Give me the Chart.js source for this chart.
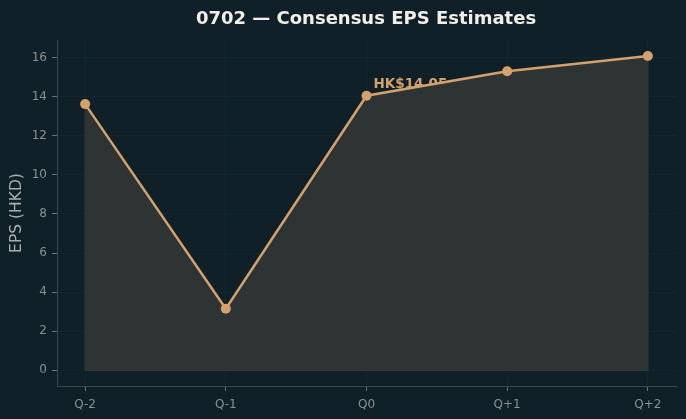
<!DOCTYPE html>
<html>
<head>
<meta charset="utf-8">
<script src="https://cdn.jsdelivr.net/npm/chart.js@4/dist/chart.umd.min.js"></script>
<style>
  html, body { margin: 0; padding: 0; background: #0f2028; }
  canvas { display: block; }
</style>
</head>
<body>
<canvas id="chart" width="686" height="419"></canvas>
<script>
var quarters = ['Q-2', 'Q-1', 'Q0', 'Q+1', 'Q+2']
var eps = [13.62, 3.15, 14.05, 15.3, 16.08]
var yTicks = [0, 2, 4, 6, 8, 10, 12, 14, 16]
var labelIndex = 2

var bg = '#0f2028'
var lineColor = '#d4a16c'
var fillColor = '#2e3434'

// titles + annotation drawn on the canvas
var textPlugin = {
    id: 'texts',
    beforeDraw(chart) {
        var c = chart.ctx
        c.save()
        c.fillStyle = bg
        c.fillRect(0, 0, chart.width, chart.height)
        c.restore()
    },
    beforeDatasetsDraw(chart) {
        var c = chart.ctx
        var x = chart.scales.x, y = chart.scales.y
        c.save()
        // fill edge (matplotlib style outline)
        c.strokeStyle = '#3b403d'
        c.lineWidth = 1
        c.beginPath()
        c.moveTo(x.getPixelForValue(0), y.getPixelForValue(eps[0]))
        c.lineTo(x.getPixelForValue(0), y.getPixelForValue(0))
        c.lineTo(x.getPixelForValue(eps.length - 1), y.getPixelForValue(0))
        c.lineTo(x.getPixelForValue(eps.length - 1), y.getPixelForValue(eps[eps.length - 1]))
        c.stroke()
        // annotation
        c.font = 'bold 13.5px "DejaVu Sans"'
        c.fillStyle = lineColor
        c.textAlign = 'left'
        c.textBaseline = 'middle'
        c.fillText('HK$' + eps[labelIndex].toFixed(2),
            x.getPixelForValue(labelIndex) + 7, y.getPixelForValue(eps[labelIndex]) - 11)
        c.restore()
    },
    afterDraw(chart) {
        var c = chart.ctx
        c.save()
        c.fillStyle = '#f2efe8'
        c.font = 'bold 18px "DejaVu Sans"'
        c.textAlign = 'center'
        c.textBaseline = 'middle'
        c.fillText('0702 \u2014 Consensus EPS Estimates', 366, 19)
        c.translate(17, 213)
        c.rotate(-Math.PI / 2)
        c.fillStyle = '#a9adae'
        c.font = '15.5px "DejaVu Sans"'
        c.fillText('EPS (HKD)', 0, 0)
        c.restore()
    }
}

document.addEventListener('DOMContentLoaded', () => {
    var ctx = document.getElementById('chart').getContext('2d')
    var points = eps.map((v, i) => ({ x: i, y: v }))
    new Chart(ctx, {
        type: 'line',
        data: {
            datasets: [{
                data: points,
                borderColor: lineColor,
                borderWidth: 2.5,
                backgroundColor: fillColor,
                fill: 'origin',
                pointRadius: 5,
                pointBackgroundColor: lineColor,
                pointBorderWidth: 0,
                tension: 0
            }]
        },
        plugins: [textPlugin],
        options: {
            responsive: false,
            animation: false,
            layout: { padding: { left: 0, right: 10, top: 40, bottom: 0 } },
            plugins: {
                legend: { display: false },
                tooltip: { enabled: false }
            },
            scales: {
                x: {
                    type: 'linear',
                    min: -0.2,
                    max: eps.length - 1 + 0.2,
                    afterBuildTicks: (s) => { s.ticks = quarters.map((q, i) => ({ value: i })) },
                    afterFit: (s) => { s.height = 33 },
                    ticks: {
                        callback: (v) => quarters[v],
                        color: '#8b9093',
                        font: { family: 'DejaVu Sans', size: 12 },
                        padding: 7,
                        maxRotation: 0
                    },
                    grid: { color: '#13252e', tickColor: '#6b7275', tickLength: 5, lineWidth: 1 },
                    border: { color: '#3e4548', width: 1 }
                },
                y: {
                    min: -0.8,
                    max: 16.9,
                    afterBuildTicks: (s) => { s.ticks = yTicks.map(v => ({ value: v })) },
                    afterFit: (s) => { s.width = 57 },
                    ticks: {
                        color: '#8b9093',
                        font: { family: 'DejaVu Sans', size: 12 },
                        padding: 5
                    },
                    grid: { color: '#13252e', tickColor: '#6b7275', tickLength: 5, lineWidth: 1 },
                    border: { color: '#3e4548', width: 1 }
                }
            }
        }
    })
})
</script>
</body>
</html>
